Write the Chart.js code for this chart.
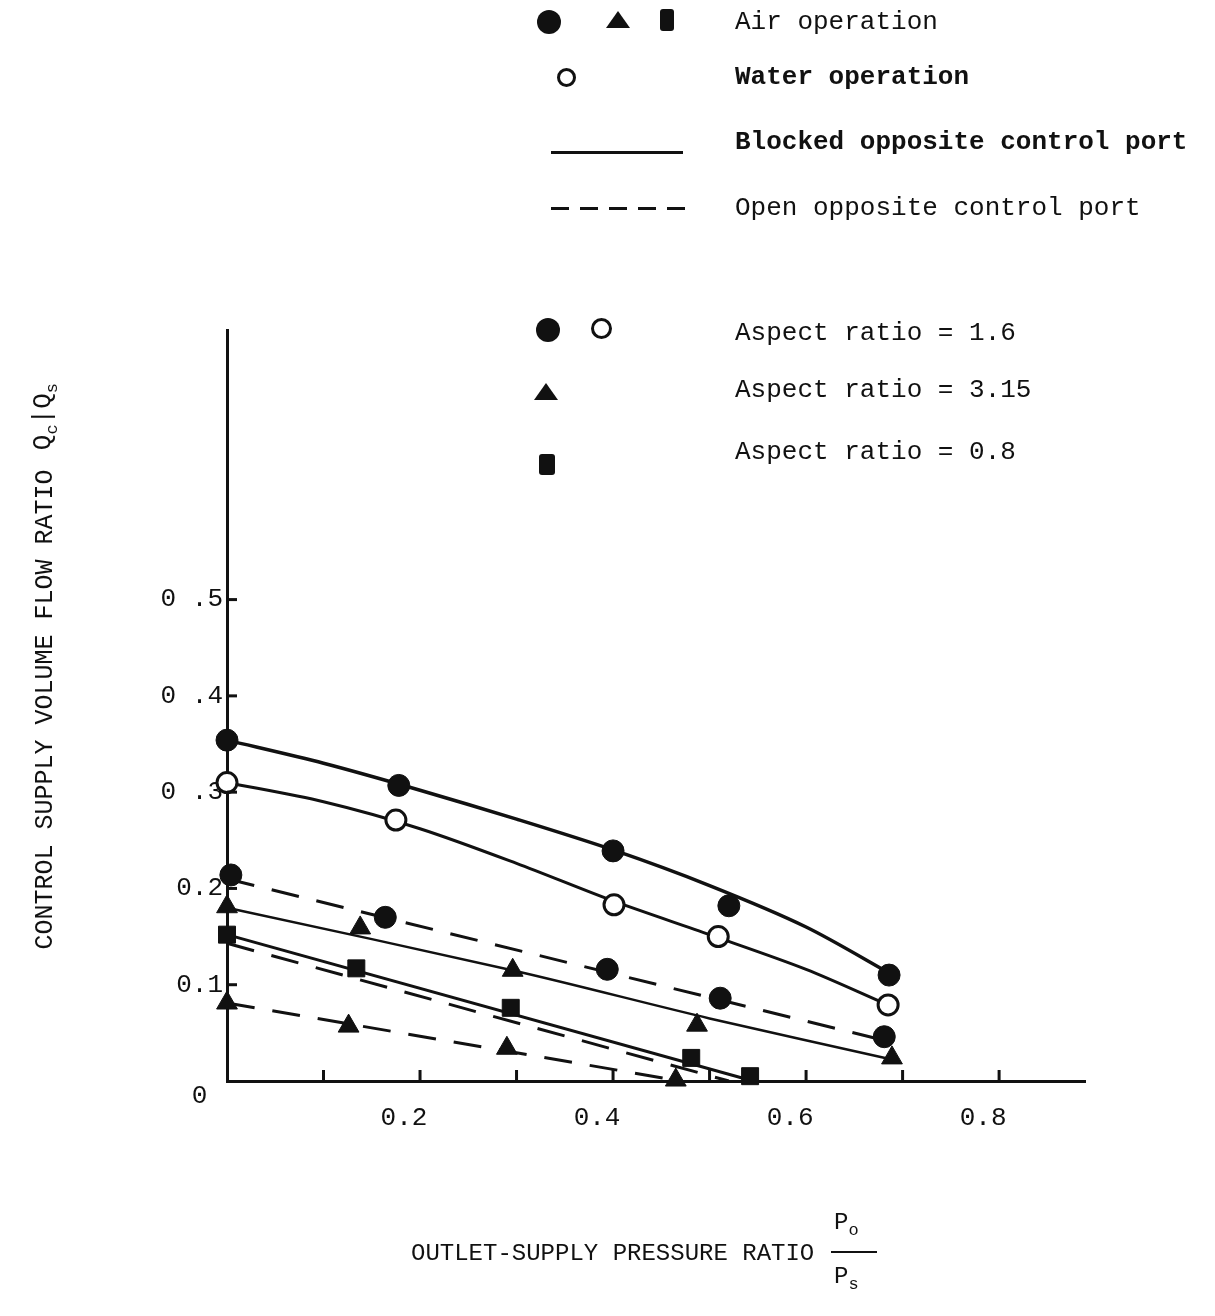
<!DOCTYPE html>
<html>
<head>
<meta charset="utf-8">
<script src="https://cdn.jsdelivr.net/npm/chart.js@4/dist/chart.umd.min.js"></script>
<style>
  body { margin: 0; background: #fff; }
  #wrap { position: relative; width: 1215px; height: 1316px; font-family: "Liberation Mono", "DejaVu Sans Mono", monospace; color: #111; }
  #wrap canvas { position: absolute; left: 0; top: 0; }
  .txt { position: absolute; font-size: 26px; line-height: 30px; white-space: pre; }
  .dot { position: absolute; background: #111; border-radius: 50%; }
  .ring { position: absolute; border: 3px solid #111; border-radius: 50%; background: #fff; box-sizing: border-box; }
  .tri { position: absolute; width: 0; height: 0; border-left: 12px solid transparent; border-right: 12px solid transparent; border-bottom: 17px solid #111; }
  .sq { position: absolute; background: #111; border-radius: 3px; }
  .rule { position: absolute; height: 0; border-top: 3px solid #111; }
  .dash { position: absolute; height: 3px; background: repeating-linear-gradient(to right, #111 0 18px, transparent 18px 29px); }
  .ytitle { position: absolute; font-size: 25px; transform: rotate(-90deg); transform-origin: center center; white-space: pre; }
</style>
</head>
<body>
<div id="wrap">
  <canvas id="chart" width="1215" height="1316"></canvas>

  <!-- legend, upper block -->
  <div class="dot" style="left:537px;top:10px;width:24px;height:24px"></div>
  <div class="tri" style="left:606px;top:11px"></div>
  <div class="sq" style="left:660px;top:9px;width:14px;height:22px"></div>
  <div class="txt" style="left:735px;top:7px">Air operation</div>

  <div class="ring" style="left:557px;top:68px;width:19px;height:19px"></div>
  <div class="txt" style="left:735px;top:62px;font-weight:bold">Water operation</div>

  <div class="rule" style="left:551px;top:151px;width:132px"></div>
  <div class="txt" style="left:735px;top:127px;font-weight:bold">Blocked opposite control port</div>

  <div class="dash" style="left:551px;top:207px;width:134px"></div>
  <div class="txt" style="left:735px;top:193px">Open opposite control port</div>

  <!-- legend, aspect ratio block -->
  <div class="dot" style="left:536px;top:318px;width:24px;height:24px"></div>
  <div class="ring" style="left:591px;top:318px;width:21px;height:21px"></div>
  <div class="txt" style="left:735px;top:318px">Aspect ratio = 1.6</div>

  <div class="tri" style="left:534px;top:383px"></div>
  <div class="txt" style="left:735px;top:375px">Aspect ratio = 3.15</div>

  <div class="sq" style="left:539px;top:454px;width:16px;height:21px"></div>
  <div class="txt" style="left:735px;top:437px">Aspect ratio = 0.8</div>

  <!-- axis titles -->
  <div class="ytitle" style="left:-195px;top:695px;width:480px;text-align:center">CONTROL SUPPLY VOLUME FLOW RATIO</div>
  <div class="ytitle" style="left:5px;top:400px;width:80px;text-align:center;font-size:26px">Q<sub style="font-size:17px">c</sub>|Q<sub style="font-size:17px">s</sub></div>

  <div class="txt" style="left:411px;top:1239px;font-size:24px">OUTLET-SUPPLY PRESSURE RATIO</div>
  <div class="txt" style="left:834px;top:1208px;font-size:24px">P<sub style="font-size:17px">o</sub></div>
  <div class="rule" style="left:831px;top:1251px;width:46px;border-top-width:2px"></div>
  <div class="txt" style="left:834px;top:1262px;font-size:24px">P<sub style="font-size:17px">s</sub></div>
</div>

<script>
// axes
const xMax = 0.889;
const yMax = 0.78;
const xLabelVals = [0.2, 0.4, 0.6, 0.8];
const xLabels = ["0.2", "0.4", "0.6", "0.8"];
const xMarkVals = [0.1, 0.2, 0.3, 0.4, 0.5, 0.6, 0.7, 0.8];
const yLabelVals = [0, 0.1, 0.2, 0.3, 0.4, 0.5];
const yLabels = [["", "0 "], "0.1", "0.2", "0 .3", "0 .4", "0 .5"];
const yMarkVals = [0.1, 0.2, 0.3, 0.4, 0.5];

// measured points
const airBlockedX = [0, 0.178, 0.40, 0.52, 0.686];
const airBlockedY = [0.354, 0.307, 0.239, 0.182, 0.110];
const waterBlockedX = [0, 0.175, 0.401, 0.509, 0.685];
const waterBlockedY = [0.31, 0.271, 0.183, 0.15, 0.079];
const airOpenX = [0.004, 0.164, 0.394, 0.511, 0.681];
const airOpenY = [0.214, 0.170, 0.116, 0.086, 0.046];
const triBlockedX = [0, 0.138, 0.296, 0.487, 0.689];
const triBlockedY = [0.181, 0.159, 0.115, 0.058, 0.024];
const triOpenX = [0, 0.126, 0.29, 0.465];
const triOpenY = [0.081, 0.057, 0.034, 0.001];
const sqX = [0, 0.134, 0.294, 0.481, 0.542];
const sqY = [0.152, 0.117, 0.076, 0.024, 0.005];

// faired curves drawn through the data
const curveAirBlockedX = [0, 0.1, 0.2, 0.3, 0.4, 0.5, 0.6, 0.69];
const curveAirBlockedY = [0.354, 0.330, 0.302, 0.272, 0.240, 0.203, 0.160, 0.110];
const curveWaterBlockedX = [0, 0.1, 0.2, 0.3, 0.4, 0.5, 0.6, 0.685];
const curveWaterBlockedY = [0.31, 0.290, 0.262, 0.226, 0.187, 0.152, 0.116, 0.079];
const curveAirOpenX = [0, 0.69];
const curveAirOpenY = [0.21, 0.040];
const curveTriBlockedX = [0, 0.3, 0.5, 0.69];
const curveTriBlockedY = [0.18, 0.114, 0.065, 0.022];
const curveSqBlockedX = [0, 0.545];
const curveSqBlockedY = [0.152, 0];
const curveSqOpenX = [0, 0.52];
const curveSqOpenY = [0.143, 0];
const curveTriOpenX = [0, 0.47];
const curveTriOpenY = [0.081, 0];

const INK = '#111';

function pts(xs, ys) {
  return xs.map((x, i) => ({ x: x, y: ys[i] }));
}

function curve(xs, ys, width, dashed, smooth) {
  return {
    data: pts(xs, ys),
    showLine: true,
    borderColor: INK,
    borderWidth: width,
    borderDash: dashed ? [28, 18] : [],
    pointRadius: 0,
    tension: smooth ? 0.3 : 0,
    clip: false,
    order: 2
  };
}

function marks(xs, ys, style, radius, open) {
  return {
    data: pts(xs, ys),
    showLine: false,
    pointStyle: style,
    pointRadius: radius,
    pointBackgroundColor: open ? '#fff' : INK,
    pointBorderColor: INK,
    pointBorderWidth: open ? 3 : 1,
    clip: false,
    order: 1
  };
}

// tick marks point inward from the axes
const innerTicks = {
  id: 'innerTicks',
  afterDatasetsDraw(chart) {
    const { ctx, scales: { x, y } } = chart;
    ctx.save();
    ctx.strokeStyle = INK;
    ctx.lineWidth = 3;
    xMarkVals.forEach(v => {
      const px = x.getPixelForValue(v);
      ctx.beginPath();
      ctx.moveTo(px, y.bottom);
      ctx.lineTo(px, y.bottom - 11);
      ctx.stroke();
    });
    yMarkVals.forEach(v => {
      const py = y.getPixelForValue(v);
      ctx.beginPath();
      ctx.moveTo(x.left, py);
      ctx.lineTo(x.left + 10, py);
      ctx.stroke();
    });
    ctx.restore();
  }
};

new Chart(document.getElementById('chart'), {
  type: 'scatter',
  data: {
    datasets: [
      curve(curveAirBlockedX, curveAirBlockedY, 3.5, false, true),
      curve(curveWaterBlockedX, curveWaterBlockedY, 3, false, true),
      curve(curveAirOpenX, curveAirOpenY, 3, true, false),
      curve(curveTriBlockedX, curveTriBlockedY, 2.5, false, true),
      curve(curveSqBlockedX, curveSqBlockedY, 3, false, false),
      curve(curveSqOpenX, curveSqOpenY, 3, true, false),
      curve(curveTriOpenX, curveTriOpenY, 3, true, false),
      marks(airBlockedX, airBlockedY, 'circle', 11, false),
      marks(waterBlockedX, waterBlockedY, 'circle', 10, true),
      marks(airOpenX, airOpenY, 'circle', 11, false),
      marks(triBlockedX, triBlockedY, 'triangle', 12, false),
      marks(triOpenX, triOpenY, 'triangle', 12, false),
      marks(sqX, sqY, 'rect', 12, false)
    ]
  },
  options: {
    responsive: false,
    animation: false,
    layout: { padding: { top: 330, right: 130, left: 0, bottom: 0 } },
    plugins: { legend: { display: false }, tooltip: { enabled: false } },
    scales: {
      x: {
        type: 'linear',
        min: 0,
        max: xMax,
        grid: { display: false },
        border: { display: true, color: INK, width: 3 },
        afterBuildTicks: s => { s.ticks = xLabelVals.map(v => ({ value: v })); },
        afterFit: s => { s.height = 235; },
        ticks: {
          color: INK,
          font: { family: '"Liberation Mono", monospace', size: 26 },
          padding: 14,
          labelOffset: -16,
          maxRotation: 0,
          callback: (v, i) => xLabels[i]
        }
      },
      y: {
        type: 'linear',
        min: 0,
        max: yMax,
        grid: { display: false },
        border: { display: true, color: INK, width: 3 },
        afterBuildTicks: s => { s.ticks = yLabelVals.map(v => ({ value: v })); },
        afterFit: s => { s.width = 227; },
        ticks: {
          color: INK,
          font: { family: '"Liberation Mono", monospace', size: 26 },
          padding: -4,
          callback: (v, i) => yLabels[i]
        }
      }
    }
  },
  plugins: [innerTicks]
});
</script>
</body>
</html>
